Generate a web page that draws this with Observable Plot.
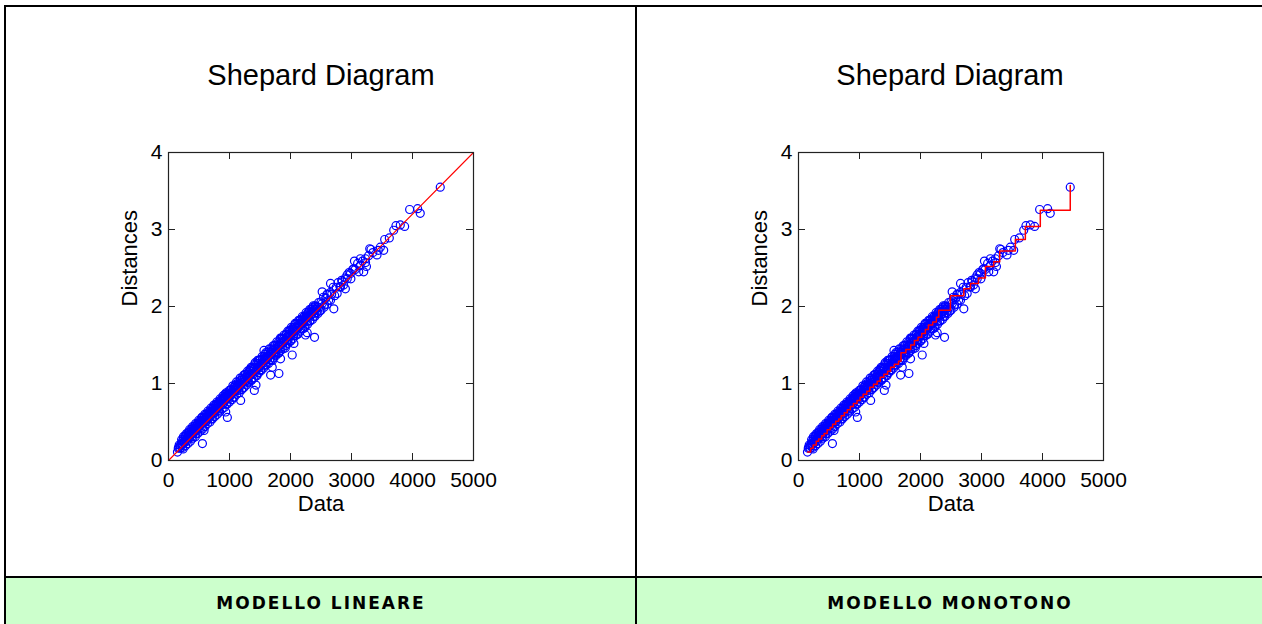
<!DOCTYPE html>
<html><head><meta charset="utf-8">
<script src="https://cdn.jsdelivr.net/npm/d3@7"></script>
<script src="https://cdn.jsdelivr.net/npm/@observablehq/plot@0.6"></script>
<style>
body{margin:0;width:1262px;height:624px;overflow:hidden;background:#fff;position:relative;font-family:Arial,"Liberation Sans",sans-serif}
.abs{position:absolute}
.line{position:absolute;background:#000}
.title{position:absolute;top:61px;height:30px;line-height:29px;font-size:29px;text-align:center;color:#000;white-space:nowrap}
.foot{position:absolute;top:580px;height:46px;line-height:46px;text-align:center;font-family:"Comic Sans MS","DejaVu Sans",sans-serif;font-weight:bold;font-size:17px;letter-spacing:2px;color:#000}
.plot{position:absolute;top:140px}
.plot svg{overflow:visible}
</style></head><body>
<div class="abs" style="left:6px;top:578px;width:1256px;height:46px;background:#ccffcc"></div>
<div class="line" style="left:4px;top:5px;width:1258px;height:2px"></div>
<div class="line" style="left:4px;top:5px;width:2px;height:619px"></div>
<div class="line" style="left:635px;top:5px;width:2px;height:619px"></div>
<div class="line" style="left:4px;top:576px;width:1258px;height:2px"></div>
<div class="title" style="left:6px;width:630px">Shepard Diagram</div>
<div class="title" style="left:637px;width:626px">Shepard Diagram</div>
<div class="foot" style="left:6px;width:630px">MODELLO LINEARE</div>
<div class="foot" style="left:637px;width:626px">MODELLO MONOTONO</div>
<div id="p1" class="plot" style="left:100px"></div>
<div id="p2" class="plot" style="left:730px"></div>
<script>
// Observed dissimilarities (Data) and fitted configuration distances (Distances)
const dataX = [
160,175,190,205,220,235,250,262,275,288,300,312,325,338,350,362,375,388,400,412,425,438,450,462,475,488,500,512,525,538,550,562,575,588,600,612,625,638,650,662,675,688,700,712,725,738,750,762,775,788,800,812,825,838,850,862,875,888,900,912,925,938,950,962,975,988,
1000,1015,1030,1045,1060,1075,1090,1105,1120,1135,1150,1165,1180,1195,1210,1225,1240,1255,1270,1285,1300,1315,1330,1345,1360,1375,1390,1405,1420,1435,1450,1465,1480,1495,1510,1525,1540,1555,1570,1585,1600,1615,1630,1645,1660,1675,1690,1705,1720,1735,1750,1765,1780,1795,1810,1825,1840,1855,1870,1885,1900,1915,1930,1945,1960,1975,1990,
2005,2020,2035,2050,2065,2080,2095,2110,2125,2140,2155,2170,2185,2200,2215,2230,2245,2260,2275,2290,2305,2320,2335,2350,2365,2380,2395,2410,2425,2440,2460,2480,2500,2520,2540,2560,2580,2600,2625,2650,2675,2700,2725,2750,2780,2810,2840,2870,2900,2930,2960,2990,3020,3060,3100,3140,3180,3230,3280,3350,3440,
168,198,228,258,283,306,331,356,381,406,431,456,481,506,531,556,581,606,631,656,681,706,731,756,781,806,831,856,881,906,931,956,981,1008,1038,1068,1098,1128,1158,1188,1218,1248,1278,1308,1338,1368,1398,1428,1458,1488,1518,1548,1578,1608,1638,1668,1698,1728,1758,1788,1818,1848,1878,1908,1938,1968,1998,2028,2058,2088,2118,2148,2178,2208,2238,2268,2298,2328,2358,2388,2418,
215,245,270,295,320,345,370,395,420,445,470,495,520,545,570,595,620,645,670,695,720,745,770,795,820,845,870,895,920,945,970,995,1025,1055,1085,1115,1145,1175,1205,1235,1265,1295,1325,1355,1385,1415,1445,1475,1505,1535,1565,1595,1625,1655,1685,1715,1745,1775,1805,1835,1865,1895,1925,1955,1985,2015,2045,2075,2105,2135,2165,2195,2225,2255,2285,2315,2345,2375,2405,
240,280,320,360,400,440,480,520,560,600,640,680,720,760,800,840,880,920,960,1000,1040,1080,1120,1160,1200,1240,1280,1320,1360,1400,1440,1480,1520,1560,1600,1640,1680,1720,1760,1800,1840,1880,1920,1960,2000,2040,2080,2120,2160,2200,2240,2280,2320,2360,2400,2450,2500,2550,2600,
4455,3953,4084,4127,3871,3729,3692,3800,3620,3544,3528,3473,3418,3299,3320,3245,3200,3228,3146,3048,3119,3037,2983,2928,2900,2846,2819,2710,2765,2656,2519,2656,2600,2465,2394,2274,2246,2056,2028,2192,1810,1837,1674,1701,1461,1407,1434,1565,1183,1292,965,938,556,583,556,147,229
];
const distY = [
.16,.20,.16,.21,.22,.21,.27,.24,.31,.28,.25,.32,.30,.37,.30,.35,.38,.31,.37,.42,.37,.42,.35,.42,.48,.41,.46,.45,.50,.43,.56,.50,.49,.56,.54,.50,.57,.55,.62,.55,.60,.63,.54,.62,.67,.62,.67,.62,.73,.68,.68,.73,.65,.73,.78,.72,.77,.73,.81,.78,.86,.79,.74,.85,.84,.80,
.87,.91,.85,.90,.82,.95,.91,.99,.92,.98,.91,.98,1.04,.99,1.05,.94,1.05,1.12,1.04,1.10,1.02,1.14,1.10,1.19,1.04,1.16,1.12,1.20,1.27,1.18,1.10,1.24,1.20,1.30,1.18,1.27,1.31,1.23,1.30,1.38,1.24,1.35,1.32,1.41,1.31,1.41,1.38,1.30,1.43,1.49,1.41,1.38,1.50,1.48,1.40,1.52,1.58,1.50,1.48,1.58,1.55,1.46,1.63,1.61,1.56,1.64,1.69,
1.56,1.66,1.71,1.62,1.70,1.77,1.69,1.64,1.77,1.74,1.82,1.71,1.81,1.78,1.86,1.72,1.85,1.89,1.81,1.87,1.93,1.82,1.93,1.90,1.99,1.87,1.97,2.00,1.92,1.99,2.05,1.94,2.06,2.04,2.12,2.02,2.11,2.16,2.08,2.18,2.16,2.25,2.14,2.25,2.31,2.26,2.34,2.28,2.37,2.36,2.44,2.36,2.48,2.48,2.56,2.53,2.59,2.57,2.66,2.70,2.73,
.17,.19,.25,.23,.26,.29,.34,.33,.36,.35,.40,.39,.43,.49,.47,.48,.53,.52,.55,.58,.57,.61,.64,.65,.66,.71,.70,.74,.76,.75,.80,.81,.86,.84,.88,.89,.94,.95,1.00,.97,1.02,1.03,1.08,1.07,1.12,1.13,1.16,1.15,1.21,1.22,1.25,1.26,1.31,1.32,1.35,1.37,1.40,1.40,1.45,1.44,1.49,1.52,1.53,1.57,1.56,1.61,1.62,1.68,1.67,1.72,1.73,1.77,1.78,1.80,1.83,1.85,1.88,1.89,1.93,1.94,1.96,
.27,.31,.32,.35,.36,.40,.40,.44,.44,.48,.47,.52,.52,.56,.55,.60,.60,.64,.63,.68,.68,.72,.71,.76,.76,.80,.79,.84,.83,.88,.88,.91,.92,.97,.97,1.02,1.02,1.07,1.07,1.11,1.12,1.16,1.17,1.21,1.21,1.25,1.26,1.30,1.31,1.35,1.35,1.40,1.40,1.45,1.45,1.49,1.50,1.54,1.54,1.59,1.59,1.63,1.64,1.68,1.69,1.73,1.73,1.78,1.78,1.82,1.83,1.87,1.87,1.92,1.92,1.96,1.97,2.01,2.01,
.15,.19,.22,.25,.29,.31,.35,.38,.41,.44,.48,.50,.54,.57,.60,.63,.67,.69,.73,.76,.79,.82,.86,.88,.92,.95,.98,1.01,1.05,1.07,1.11,1.14,1.17,1.20,1.24,1.26,1.30,1.33,1.36,1.39,1.43,1.45,1.49,1.52,1.55,1.58,1.62,1.64,1.68,1.71,1.74,1.77,1.81,1.83,1.87,1.91,1.95,1.99,2.03,
3.55,3.26,3.27,3.21,3.04,3.05,2.99,3.06,2.89,2.87,2.73,2.77,2.67,2.75,2.74,2.52,2.45,2.62,2.62,2.59,2.45,2.49,2.43,2.41,2.23,2.32,2.25,1.97,2.17,2.30,2.19,2.08,2.15,1.99,1.60,1.66,1.63,1.52,1.37,1.78,1.13,1.32,1.11,1.21,1.30,.91,.98,1.43,.78,1.04,.56,.63,.22,.39,.56,.11,.17
];
// Linear fit (left panel)
const fitX = [0, 5000];
const fitY = [0, 4];
// Monotone (isotonic) disparities (right panel), step levels
const stepX = [150,200,240,290,330,380,420,470,520,560,610,660,700,750,800,850,900,960,1010,1060,1120,1170,1230,1290,1340,1400,1460,1510,1570,1640,1680,1760,1840,1900,1960,2020,2080,2130,2200,2260,2300,2490,2710,2819,2950,3064,3200,3299,3555,3719,3964,4455];
const stepY = [0.11,0.16,0.20,0.25,0.28,0.32,0.35,0.40,0.43,0.47,0.51,0.54,0.58,0.62,0.66,0.70,0.74,0.78,0.82,0.86,0.90,0.95,0.99,1.03,1.08,1.12,1.16,1.21,1.25,1.29,1.40,1.44,1.50,1.56,1.60,1.65,1.70,1.76,1.80,1.86,1.95,2.14,2.23,2.30,2.37,2.52,2.58,2.72,2.87,3.04,3.25,3.57];
const xTicks = [0, 1000, 2000, 3000, 4000, 5000];
const yTicks = [0, 1, 2, 3, 4];
const xLabel = "Data", yLabel = "Distances";

const pts = dataX.map((x, i) => ({x, y: distY[i]}));
const fit = fitX.map((x, i) => ({x, y: fitY[i]}));
const steps = stepX.map((x, i) => ({x, y: stepY[i]}));

function shepard(fitData, curve, sw) {
  const W = 305, H = 308, T = 7, ax = "#222";
  return Plot.plot({
    width: 68 + W + 20, height: 12 + H + 60,
    marginLeft: 68, marginRight: 20, marginTop: 12, marginBottom: 60,
    x: {domain: [0, 5000]}, y: {domain: [0, 4]},
    style: {fontFamily: "Arial, 'Liberation Sans', sans-serif", color: "#000", background: "transparent", overflow: "visible"},
    marks: [
      Plot.dot(pts, {x: "x", y: "y", r: 4, stroke: "#0000ff", strokeWidth: 1.2, fill: "none"}),
      Plot.line(fitData, {x: "x", y: "y", stroke: "#ff0000", strokeWidth: sw, curve}),
      Plot.frame({stroke: ax, strokeWidth: 1.2}),
      Plot.tickX(xTicks, {x: d => d, insetTop: H - T, stroke: ax}),
      Plot.tickX(xTicks, {x: d => d, insetBottom: H - T, stroke: ax}),
      Plot.tickY(yTicks, {y: d => d, insetRight: W - T, stroke: ax}),
      Plot.tickY(yTicks, {y: d => d, insetLeft: W - T, stroke: ax}),
      Plot.axisX(xTicks, {tickSize: 0, tickPadding: 12, fontSize: 21, label: null, tickFormat: d3.format("d")}),
      Plot.axisY(yTicks, {tickSize: 0, tickPadding: 6, fontSize: 21, label: null, tickFormat: d3.format("d")}),
      Plot.text([xLabel], {text: d => d, frameAnchor: "bottom", dy: 50, fontSize: 22}),
      Plot.text([yLabel], {text: d => d, frameAnchor: "left", dx: -39, rotate: -90, fontSize: 22})
    ]
  });
}
document.getElementById("p1").appendChild(shepard(fit, "linear", 1.1));
document.getElementById("p2").appendChild(shepard(steps, "step-after", 1.5));
</script>
</body></html>
